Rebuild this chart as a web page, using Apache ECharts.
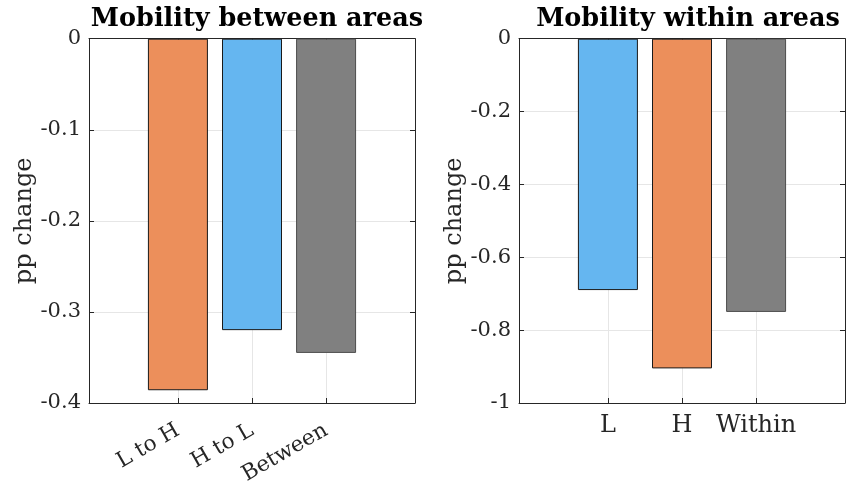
<!DOCTYPE html>
<html>
<head>
<meta charset="utf-8">
<script src="https://cdn.jsdelivr.net/npm/echarts@6/dist/echarts.min.js"></script>
<style>
html,body{margin:0;padding:0;background:#fff;}
#chart{width:849px;height:481px;}
</style>
</head>
<body>
<div id="chart"></div>
<script>
// data
var betweenCats = ['L to H', 'H to L', 'Between'];
var betweenVals = [-0.386, -0.320, -0.345];
var withinCats = ['L', 'H', 'Within'];
var withinVals = [-0.690, -0.905, -0.750];
var catPos = [1, 2, 3];

var ORANGE = '#EC8F5B', BLUE = '#65B6F0', GRAY = '#808080';
var betweenColors = [ORANGE, BLUE, GRAY];
var withinColors = [BLUE, ORANGE, GRAY];
var axisCol = '#262626';
var font = 'DejaVu Serif';

function fmtY(v){
	var n = parseFloat(v.toFixed(2));
	return n === 0 ? '0' : String(n);
}

function makeData(vals, colors){
	var out = [];
	for(var i=0;i<vals.length;i++){
		out.push({
			value: [catPos[i], vals[i]],
			itemStyle: {color: colors[i], borderColor: colors[i] == GRAY ? '#4d4d4d' : '#1a1a1a', borderWidth: 1}
		});
	}
	return out;
}

function xAxes(gi, cats){
	var lbl = gi == 0 ? {fontSize: 21.5, margin: 26, rotate: 30} : {fontSize: 24, margin: 11, rotate: 0};
	lbl.customValues = catPos;
	lbl.fontFamily = font;
	lbl.color = '#262626';
	lbl.formatter = function(v){ return cats[Math.round(v) - 1]; };
	var bottom = {
		type: 'value', gridIndex: gi, min: -0.2, max: 4.2, position: 'bottom',
		axisLine: {show: true, onZero: false, lineStyle: {color: axisCol, width: 1}},
		axisTick: {show: true, inside: true, length: 5, customValues: catPos, lineStyle: {color: axisCol}},
		axisLabel: lbl,
		splitLine: {show: true, lineStyle: {color: '#e6e6e6', width: 1}}
	};
	var top = {
		type: 'value', gridIndex: gi, min: -0.2, max: 4.2, position: 'top',
		axisLine: {show: true, onZero: false, lineStyle: {color: axisCol, width: 1}},
		axisTick: {show: true, inside: true, length: 5, customValues: catPos, lineStyle: {color: axisCol}},
		axisLabel: {show: false},
		splitLine: {show: false}
	};
	return [bottom, top];
}

function yAxes(gi, min, step, gap){
	var left = {
		type: 'value', gridIndex: gi, min: min, max: 0, interval: step, position: 'left',
		name: 'pp change', nameLocation: 'middle', nameGap: gap,
		nameTextStyle: {fontFamily: font, fontSize: 24, color: '#262626'},
		axisLine: {show: true, onZero: false, lineStyle: {color: axisCol, width: 1}},
		axisTick: {show: true, inside: true, length: 5, lineStyle: {color: axisCol}},
		axisLabel: {fontFamily: font, fontSize: 21, color: '#262626', margin: 8, formatter: fmtY},
		splitLine: {show: true, lineStyle: {color: '#e6e6e6', width: 1}}
	};
	var right = {
		type: 'value', gridIndex: gi, min: min, max: 0, interval: step, position: 'right',
		axisLine: {show: true, onZero: false, lineStyle: {color: axisCol, width: 1}},
		axisTick: {show: true, inside: true, length: 5, lineStyle: {color: axisCol}},
		axisLabel: {show: false},
		splitLine: {show: false}
	};
	return [left, right];
}

var chart = echarts.init(document.getElementById('chart'), null, {renderer: 'canvas'});

var option = {
	backgroundColor: '#ffffff',
	animation: false,
	title: [{
		text: 'Mobility between areas', left: 252, top: 1, textAlign: 'center',
		textStyle: {fontFamily: font, fontWeight: 'bold', fontSize: 25.5, color: '#000'}
	}, {
		text: 'Mobility within areas', left: 683, top: 1, textAlign: 'center',
		textStyle: {fontFamily: font, fontWeight: 'bold', fontSize: 25.5, color: '#000'}
	}],
	grid: [
		{left: 89, top: 38.7, width: 326, height: 364.3, containLabel: false, outerBoundsMode: 'none'},
		{left: 519, top: 38.7, width: 326, height: 364.3, containLabel: false, outerBoundsMode: 'none'}
	],
	xAxis: xAxes(0, betweenCats).concat(xAxes(1, withinCats)),
	yAxis: yAxes(0, -0.4, 0.1, 44).concat(yAxes(1, -1, 0.2, 47)),
	series: [{
		type: 'bar', xAxisIndex: 0, yAxisIndex: 0, barWidth: 60,
		data: makeData(betweenVals, betweenColors)
	}, {
		type: 'bar', xAxisIndex: 2, yAxisIndex: 2, barWidth: 60,
		data: makeData(withinVals, withinColors)
	}]
};
chart.setOption(option);
</script>
</body>
</html>
